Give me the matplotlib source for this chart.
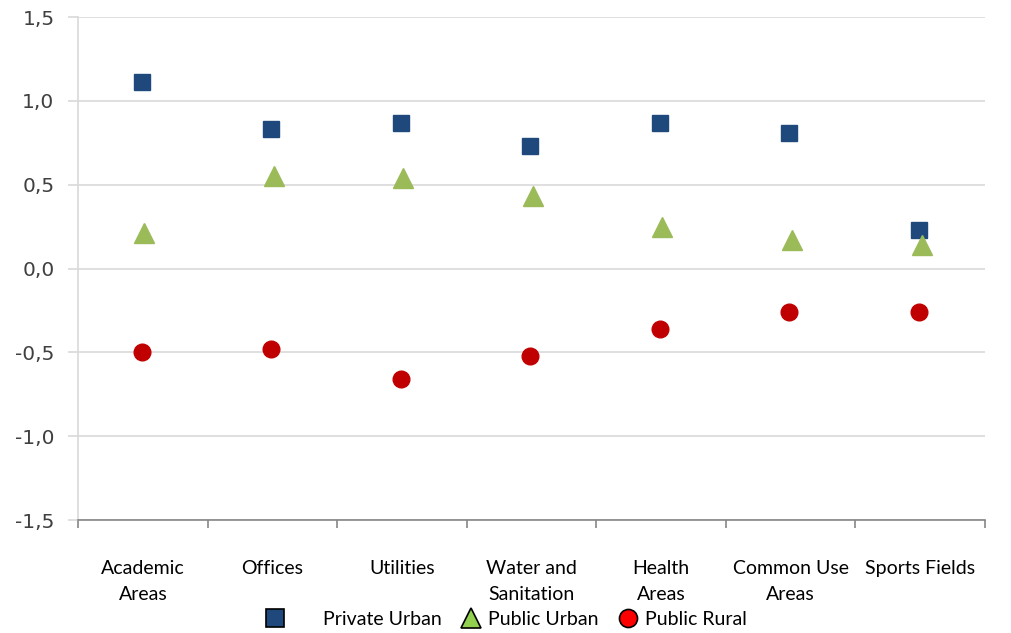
import matplotlib.pyplot as plt
from matplotlib.lines import Line2D
import numpy as np

categories = ["Academic\nAreas", "Offices", "Utilities", "Water and\nSanitation",
              "Health\nAreas", "Common Use\nAreas", "Sports Fields"]
private_urban = [1.11, 0.83, 0.87, 0.73, 0.87, 0.81, 0.23]
public_urban = [0.21, 0.55, 0.54, 0.43, 0.25, 0.17, 0.14]
public_rural = [-0.50, -0.48, -0.66, -0.52, -0.36, -0.26, -0.26]
y_ticks = [-1.5, -1.0, -0.5, 0.0, 0.5, 1.0, 1.5]
y_tick_labels = ["-1,5", "-1,0", "-0,5", "0,0", "0,5", "1,0", "1,5"]

fig = plt.figure(figsize=(10.11, 6.33), dpi=100)
ax = fig.add_axes([0.0772, 0.1785, 0.8971, 0.7946])

x = np.arange(len(categories))
ax.plot(x - 0.01, private_urban, "s", color="#1F497D", markersize=11.5, zorder=3)
ax.plot(x + 0.01, public_urban, "^", color="#9BBB59", markersize=14, zorder=4)
ax.plot(x - 0.01, public_rural, "o", color="#C00000", markersize=12, zorder=3)

ax.set_xlim(-0.5, len(categories) - 0.5)
ax.set_ylim(-1.5, 1.5)
ax.set_yticks(y_ticks)
ax.set_yticklabels(y_tick_labels, fontsize=14.5, color="#404040", family="DejaVu Sans")
ax.yaxis.grid(True, color="#D9D9D9", linewidth=1.2)
ax.set_axisbelow(True)
ax.tick_params(axis="y", length=7, color="#D9D9D9", width=1.2, pad=10)

ax.set_xticks(x)
ax.set_xticklabels(categories, fontsize=14, family="Lato", color="#000000",
                   linespacing=1.65)
ax.set_xticks(np.arange(-0.5, len(categories)), minor=True)
ax.tick_params(axis="x", which="major", length=0, pad=29)
ax.tick_params(axis="x", which="minor", length=6, color="#868686", width=1.2)

for side in ("top", "right"):
    ax.spines[side].set_visible(False)
ax.spines["left"].set_color("#D9D9D9")
ax.spines["left"].set_linewidth(1.2)
ax.spines["bottom"].set_color("#868686")
ax.spines["bottom"].set_linewidth(1.2)

handles = [
    Line2D([], [], linestyle="none", marker="s", markersize=13,
           markerfacecolor="#1F497D", markeredgecolor="black", markeredgewidth=1.2),
    Line2D([], [], linestyle="none", marker="^", markersize=15,
           markerfacecolor="#92D050", markeredgecolor="black", markeredgewidth=1.2),
    Line2D([], [], linestyle="none", marker="o", markersize=13,
           markerfacecolor="#FF0000", markeredgecolor="black", markeredgewidth=1.2),
]
labels = ["      Private Urban", "Public Urban", "Public Rural"]
fig.legend(handles, labels, loc="center", bbox_to_anchor=(0.5, 0.022),
           ncol=3, frameon=False, prop={"family": "Lato", "size": 14},
           handletextpad=0.3, columnspacing=0.9, handlelength=1.2)

fig.savefig("out.png", dpi=100)
